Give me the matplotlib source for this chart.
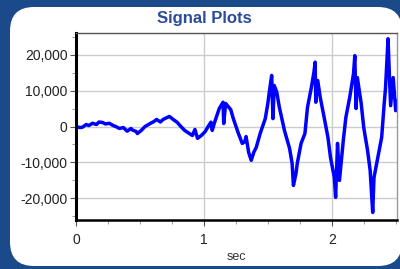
import numpy as np
import matplotlib
matplotlib.use("Agg")
import matplotlib.pyplot as plt
from matplotlib.patches import FancyBboxPatch
from matplotlib.transforms import IdentityTransform
from matplotlib.ticker import FuncFormatter, MultipleLocator

plt.rcParams["font.family"] = ["Liberation Sans", "DejaVu Sans"]

# signal (time in sec, amplitude)
t = [0.00, 0.03, 0.05, 0.08, 0.10, 0.13, 0.16, 0.18, 0.21, 0.23,
     0.26, 0.29, 0.31, 0.34, 0.37, 0.40, 0.43, 0.44, 0.47, 0.48,
     0.51, 0.54, 0.58, 0.61, 0.63, 0.66, 0.68, 0.73, 0.76, 0.79,
     0.82, 0.85, 0.88, 0.91, 0.93, 0.95, 0.98, 1.01, 1.03, 1.055,
     1.065, 1.08, 1.12, 1.15, 1.155, 1.17, 1.19, 1.21, 1.23, 1.27,
     1.30, 1.32, 1.33, 1.35, 1.37, 1.39, 1.41, 1.44, 1.48, 1.50,
     1.51, 1.53, 1.54, 1.55, 1.57, 1.59, 1.63, 1.67, 1.69, 1.70,
     1.72, 1.73, 1.76, 1.79, 1.81, 1.84, 1.86, 1.87, 1.875, 1.89,
     1.91, 1.94, 1.97, 1.99, 2.02, 2.03, 2.045, 2.06, 2.09, 2.11,
     2.14, 2.17, 2.18, 2.19, 2.20, 2.23, 2.25, 2.28, 2.30, 2.32,
     2.33, 2.36, 2.39, 2.41, 2.42, 2.44, 2.45, 2.46, 2.48, 2.50,
     2.51]
signal = [0, -300, -200, 550, 280, 900, 550, 1250, 1100, 700,
          900, 280, 0, -550, -280, -1300, -550, -950, -1400, -1950,
          -1100, 0, 830, 1400, 1950, 1250, 1950, 2800, 1950, 1200,
          0, -1100, -1800, -2500, -830, -3300, -2500, -1400, -200, 1200,
          -1100, 750, 5000, 6750, 830, 6400, 5550, 4700, 2200, -1950,
          -4700, -4200, -2800, -7200, -9400, -7200, -5750, -1950, 2200, 6400,
          9200, 14200, 2200, 11400, 9500, 5350, -1100, -6100, -10300, -16400,
          -13100, -10300, -4700, -1950, 5300, 10800, 15000, 17900, 6750, 12800,
          8050, 2600, -3050, -8600, -14200, -19700, -4700, -15000, -3900, 2500,
          8050, 14700, 19700, 5000, 13600, 6400, -300, -6700, -12200, -23900,
          -14200, -8600, -3050, 6400, 10600, 24400, 14700, 5800, 13600, 4400,
          7000]

y_ticks = [-20000, -10000, 0, 10000, 20000]
x_ticks = [0, 1, 2]

fig = plt.figure(figsize=(4, 2.69), dpi=100)
fig.patch.set_facecolor("#1b4a8a")

# white rounded panel, behind the axes
panel = FancyBboxPatch((10, 3), 392, 259,
                       boxstyle="round,pad=0,rounding_size=24",
                       transform=IdentityTransform(),
                       facecolor="white", edgecolor="none", zorder=-10)
fig.add_artist(panel)

ax = fig.add_axes([76 / 400, 1 - 220 / 269, 321 / 400, 187 / 269])
ax.set_zorder(1)
ax.plot(t, signal, color="#0000ff", linewidth=2.5)

ax.set_xlim(0, 2.51)
ax.set_ylim(-26000, 26000)
ax.set_xticks(x_ticks)
ax.set_yticks(y_ticks)
ax.xaxis.set_minor_locator(MultipleLocator(0.25))
ax.yaxis.set_minor_locator(MultipleLocator(5000))
ax.yaxis.set_major_formatter(FuncFormatter(lambda v, p: f"{int(v):,}"))
ax.grid(True, which="major", color="#cccccc", linewidth=1.0)
ax.set_axisbelow(True)

ax.tick_params(which="major", length=4, width=0.8, color="#555555",
               labelsize=10, labelcolor="#222222", pad=2)
ax.tick_params(axis="x", which="major", pad=5)
ax.tick_params(which="minor", length=3, width=0.6, color="#888888")

for side in ["left", "bottom"]:
    ax.spines[side].set_color("black")
ax.spines["left"].set_linewidth(2.2)
ax.spines["bottom"].set_linewidth(1.8)
ax.spines["top"].set_color("#555555")
ax.spines["top"].set_linewidth(1.0)
ax.spines["right"].set_color("#999999")
ax.spines["right"].set_linewidth(1.0)

ax.set_xlabel("sec", fontsize=9, color="#333333", labelpad=3)
fig.text(0.51, 1 - 18 / 269, "Signal Plots", ha="center", va="center",
         fontsize=12, fontweight="bold", color="#2b4b9b")

fig.savefig("out.png", dpi=100, facecolor=fig.get_facecolor())
